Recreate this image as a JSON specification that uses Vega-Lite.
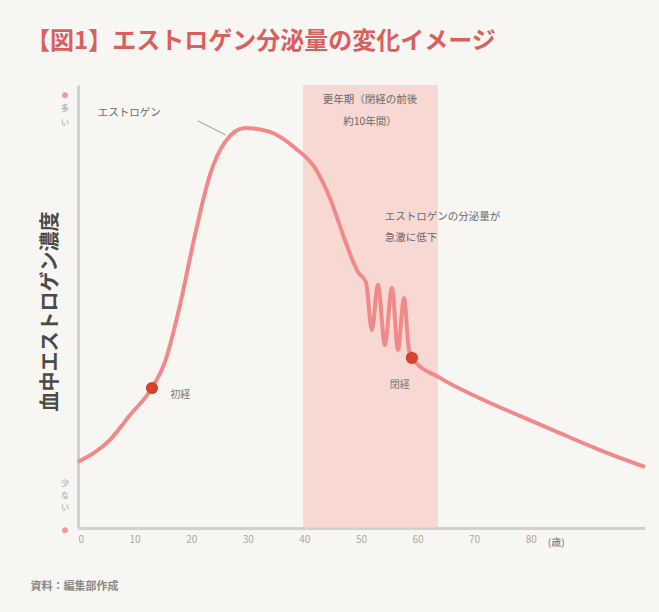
{
  "$schema": "https://vega.github.io/schema/vega-lite/v6.json",
  "width": 567,
  "height": 443,
  "autosize": {"type": "none"},
  "padding": {"left": 78, "top": 85, "right": 14, "bottom": 84},
  "background": "#f8f6f2",
  "config": {"view": {"stroke": null}, "font": "Noto Sans CJK JP"},
  "title": {
    "text": "【図1】エストロゲン分泌量の変化イメージ",
    "anchor": "start",
    "frame": "group",
    "dx": -52,
    "offset": 31,
    "fontSize": 24,
    "fontWeight": "bold",
    "color": "#d9605e",
    "font": "Noto Sans CJK JP"
  },
  "datasets": {
    "curve": [
      {"age": 0, "v": 14.9}, {"age": 5.65, "v": 19.9}, {"age": 9.19, "v": 25.5},
      {"age": 13.07, "v": 31.6}, {"age": 15.37, "v": 37.5}, {"age": 18.02, "v": 50.3},
      {"age": 20.67, "v": 66.1}, {"age": 23.32, "v": 79.7}, {"age": 25.97, "v": 87.1},
      {"age": 29.51, "v": 90.3}, {"age": 33.92, "v": 89.4}, {"age": 38.34, "v": 85.8},
      {"age": 41.87, "v": 81.3}, {"age": 44.52, "v": 74.5}, {"age": 47.17, "v": 65.0},
      {"age": 49.47, "v": 57.8}, {"age": 50.88, "v": 55.5}, {"age": 51.94, "v": 44.7},
      {"age": 53.0, "v": 54.9}, {"age": 54.24, "v": 41.3}, {"age": 55.48, "v": 54.2},
      {"age": 56.54, "v": 40.2}, {"age": 57.6, "v": 51.9}, {"age": 58.48, "v": 40.2},
      {"age": 59.0, "v": 38.4}, {"age": 63.96, "v": 33.9}, {"age": 71.02, "v": 29.3},
      {"age": 78.09, "v": 25.3}, {"age": 85.16, "v": 21.4}, {"age": 92.23, "v": 17.6},
      {"age": 100.2, "v": 13.8}
    ],
    "events": [
      {"age": 13.07, "v": 31.6, "label": "初経", "lx": 16.3, "ly": 30.0},
      {"age": 59.0, "v": 38.4, "label": "閉経", "lx": 55.1, "ly": 32.3}
    ]
  },
  "layer": [
    {
      "data": {"values": [{"start": 39.75, "end": 63.6, "lo": 0, "hi": 100}]},
      "mark": {"type": "rect", "color": "#f7cdc8", "opacity": 0.75},
      "encoding": {
        "x": {"field": "start", "type": "quantitative", "scale": {"domain": [0, 100.2], "nice": false}},
        "x2": {"field": "end"},
        "y": {"field": "lo", "type": "quantitative", "scale": {"domain": [0, 100], "nice": false}},
        "y2": {"field": "hi"}
      }
    },
    {
      "data": {"name": "curve"},
      "mark": {"type": "line", "color": "#f08a8a", "strokeWidth": 4, "interpolate": "monotone"},
      "encoding": {
        "x": {
          "field": "age", "type": "quantitative",
          "scale": {"domain": [0, 100.2], "nice": false},
          "axis": {
            "values": [0, 10, 20, 30, 40, 50, 60, 70, 80],
            "domainColor": "#d0d0cc", "domainWidth": 3, "ticks": false, "grid": false,
            "labelColor": "#a8a8a4", "labelFontSize": 10, "labelPadding": 6,
            "title": "資料：編集部作成", "titleAnchor": "start", "titleAlign": "left",
            "titleX": -48, "titleY": 52, "titleFontSize": 11, "titleFontWeight": "bold",
            "titleColor": "#8a8a86"
          }
        },
        "y": {
          "field": "v", "type": "quantitative",
          "scale": {"domain": [0, 100], "nice": false},
          "axis": {
            "labels": false, "ticks": false, "grid": false,
            "domainColor": "#d0d0cc", "domainWidth": 3,
            "title": "血中エストロゲン濃度", "titleFontSize": 20, "titleFontWeight": "bold",
            "titleColor": "#4a4a4a", "titlePadding": 18, "titleY": 226
          }
        }
      }
    },
    {
      "data": {"name": "events"},
      "mark": {"type": "circle", "color": "#d8432c", "size": 150, "opacity": 1},
      "encoding": {
        "x": {"field": "age", "type": "quantitative"},
        "y": {"field": "v", "type": "quantitative"}
      }
    },
    {
      "data": {"name": "events"},
      "mark": {"type": "text", "align": "left", "fontSize": 10, "color": "#777777"},
      "encoding": {
        "x": {"field": "lx", "type": "quantitative"},
        "y": {"field": "ly", "type": "quantitative"},
        "text": {"field": "label"}
      }
    },
    {
      "data": {"values": [
        {"x": 3.5, "y": 93.7, "t": "エストロゲン"},
        {"x": 54.2, "y": 70.2, "t": "エストロゲンの分泌量が"},
        {"x": 54.2, "y": 65.5, "t": "急激に低下"}
      ]},
      "mark": {"type": "text", "fontSize": 10.5, "color": "#6a6a6a", "align": "left"},
      "encoding": {
        "x": {"field": "x", "type": "quantitative"},
        "y": {"field": "y", "type": "quantitative"},
        "text": {"field": "t"}
      }
    },
    {
      "data": {"values": [
        {"x": 51.6, "y": 96.6, "t": "更年期（閉経の前後"},
        {"x": 51.6, "y": 91.6, "t": "約10年間）"}
      ]},
      "mark": {"type": "text", "fontSize": 10.5, "color": "#6a6a6a", "align": "center"},
      "encoding": {
        "x": {"field": "x", "type": "quantitative"},
        "y": {"field": "y", "type": "quantitative"},
        "text": {"field": "t"}
      }
    },
    {
      "data": {"values": [{"x": 21.2, "y": 91.9, "x2": 26.1, "y2": 88.7}]},
      "mark": {"type": "rule", "color": "#999999", "strokeWidth": 1},
      "encoding": {
        "x": {"field": "x", "type": "quantitative"},
        "y": {"field": "y", "type": "quantitative"},
        "x2": {"field": "x2"},
        "y2": {"field": "y2"}
      }
    },
    {
      "data": {"values": [{"x": 0, "y": 97.7}, {"x": 0, "y": -0.5}]},
      "mark": {"type": "circle", "color": "#f29a9a", "size": 35, "opacity": 1, "xOffset": -13, "clip": false},
      "encoding": {
        "x": {"field": "x", "type": "quantitative"},
        "y": {"field": "y", "type": "quantitative"}
      }
    },
    {
      "data": {"values": [
        {"x": 0, "y": 94.5, "t": "多"},
        {"x": 0, "y": 91.5, "t": "い"},
        {"x": 0, "y": 10.0, "t": "少"},
        {"x": 0, "y": 7.3, "t": "な"},
        {"x": 0, "y": 4.6, "t": "い"}
      ]},
      "mark": {"type": "text", "fontSize": 8, "color": "#a0a09c", "dx": -13, "baseline": "middle"},
      "encoding": {
        "x": {"field": "x", "type": "quantitative"},
        "y": {"field": "y", "type": "quantitative"},
        "text": {"field": "t"}
      }
    },
    {
      "data": {"values": [{"x": 84.5, "y": 0, "t": "(歳)"}]},
      "mark": {"type": "text", "fontSize": 10, "color": "#707070", "dy": 15},
      "encoding": {
        "x": {"field": "x", "type": "quantitative"},
        "y": {"field": "y", "type": "quantitative"},
        "text": {"field": "t"}
      }
    }
  ]
}
